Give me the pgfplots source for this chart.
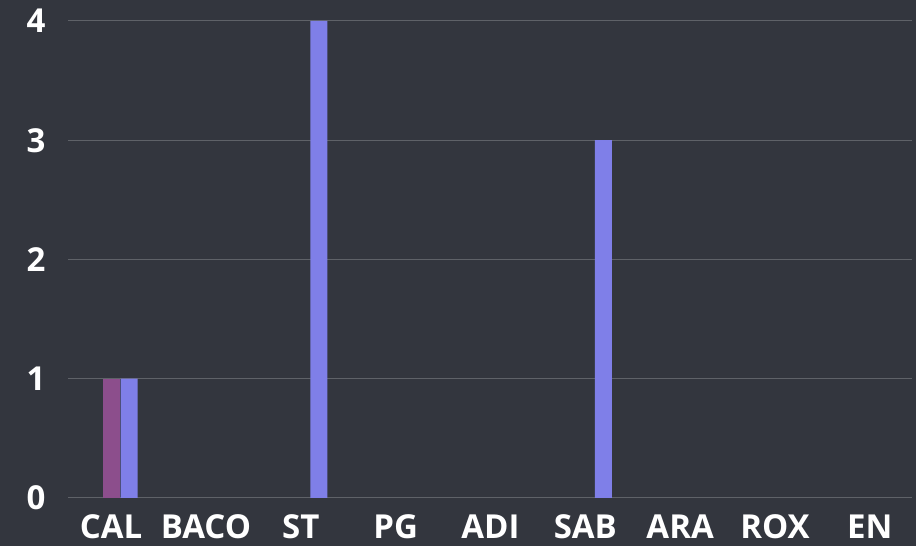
\documentclass[border=0pt]{standalone}
\usepackage{pgfplots}
\pgfplotsset{compat=1.18}
\usepackage{fontspec}
\setmainfont{Open Sans}
\definecolor{bg}{HTML}{33363E}
\definecolor{gridc}{HTML}{5F6268}
\definecolor{purp}{HTML}{8C4E8C}
\definecolor{peri}{HTML}{7F7FE8}
\begin{document}
\begin{tikzpicture}[x=1pt,y=1pt]
\fill[bg] (0,0) rectangle (916,546);
\useasboundingbox (0,0) rectangle (916,546);
\begin{axis}[
  at={(68pt,48pt)}, anchor=south west,
  scale only axis, width=844pt, height=477pt,
  xmin=-0.55, xmax=8.35, ymin=0, ymax=4,
  ybar=1pt, bar width=17pt,
  xtick={0,...,8},
  xticklabels={CAL,BACO,ST,PG,ADI,SAB,ARA,ROX,EN},
  ytick={0,1,2,3,4},
  axis line style={draw=none},
  major tick length=0pt,
  ymajorgrids, grid style={gridc, line width=1pt},
  /pgf/number format/assume math mode=true,
  tick label style={white, font=\fontsize{33}{36}\selectfont\bfseries},
  xticklabel style={xshift=-9pt, yshift=-13pt},
  yticklabel style={xshift=-19pt},
]
\addplot[fill=purp, draw=none] coordinates {(0,1)};
\addplot[fill=peri, draw=none] coordinates {(0,1) (2,4) (5,3)};
\end{axis}
\end{tikzpicture}
\end{document}
